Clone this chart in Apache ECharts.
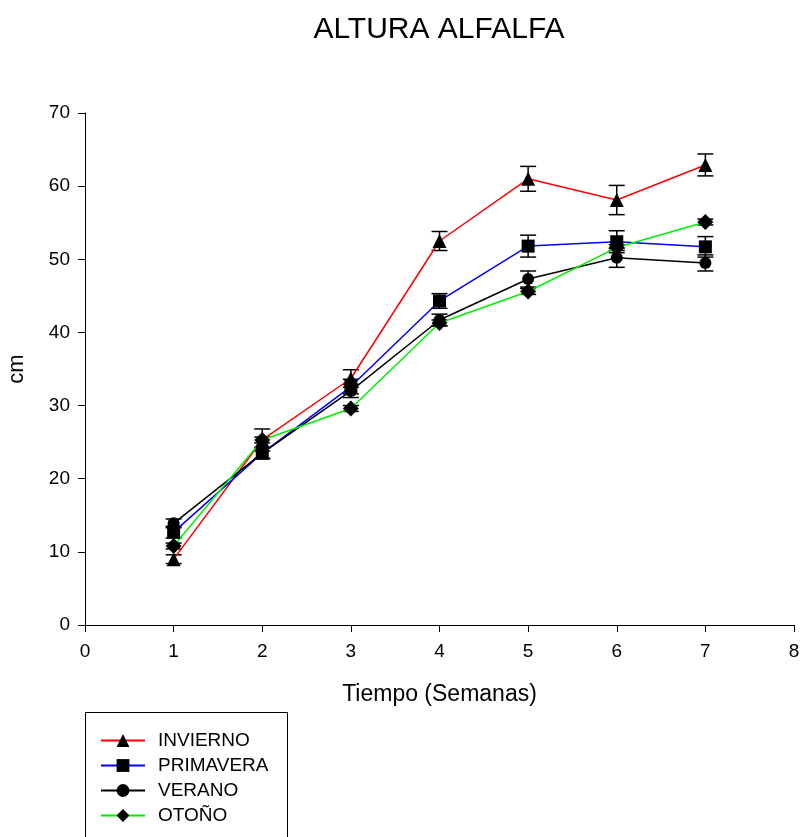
<!DOCTYPE html>
<html>
<head>
<meta charset="utf-8">
<title>ALTURA ALFALFA</title>
<script src="https://cdn.jsdelivr.net/npm/echarts@6/dist/echarts.min.js"></script>
<style>
  html, body { margin: 0; padding: 0; background: #fff; }
  #chart { width: 801px; height: 837px; }
</style>
</head>
<body>
<div id="chart"></div>
<script>
// Weeks of measurement
const semanas = [1, 2, 3, 4, 5, 6, 7];

// Mean height (cm) per season and its standard error
const invierno = [9.0, 25.3, 33.7, 52.5, 61.0, 58.1, 62.9];
const inviernoErr = [0.6, 1.5, 1.2, 1.3, 1.7, 2.0, 1.5];

const primavera = [12.7, 23.5, 32.6, 44.3, 51.8, 52.4, 51.7];
const primaveraErr = [0.8, 0.8, 1.0, 1.0, 1.5, 1.5, 1.4];

const verano = [13.9, 23.5, 32.0, 41.7, 47.3, 50.2, 49.5];
const veranoErr = [0.6, 0.7, 0.9, 0.8, 1.1, 1.3, 1.1];

const otono = [10.8, 25.3, 29.6, 41.3, 45.6, 51.6, 55.1];
const otonoErr = [0.4, 0.4, 0.4, 0.4, 0.4, 0.4, 0.4];

const FONT = '"Liberation Sans", Arial, sans-serif';

const seriesDefs = [
  { name: 'INVIERNO', values: invierno, errs: inviernoErr, color: '#ff0000', symbol: 'triangle', size: 14 },
  { name: 'PRIMAVERA', values: primavera, errs: primaveraErr, color: '#0000ff', symbol: 'rect', size: 13 },
  { name: 'VERANO', values: verano, errs: veranoErr, color: '#000000', symbol: 'circle', size: 12 },
  { name: 'OTOÑO', values: otono, errs: otonoErr, color: '#00ee00', symbol: 'diamond', size: 16 }
];

const series = [];
seriesDefs.forEach(function (d) {
  // Error bars: vertical whisker with caps
  series.push({
    type: 'custom',
    name: d.name + '-err',
    silent: true,
    z: 3,
    data: semanas.map(function (w, i) { return [w, d.values[i] - d.errs[i], d.values[i] + d.errs[i]]; }),
    renderItem: function (params, api) {
      const x = api.value(0);
      const lo = api.coord([x, api.value(1)]);
      const hi = api.coord([x, api.value(2)]);
      const half = 8;
      const style = { stroke: '#000', lineWidth: 1.5, fill: null };
      return {
        type: 'group',
        children: [
          { type: 'line', shape: { x1: lo[0], y1: lo[1], x2: hi[0], y2: hi[1] }, style: style },
          { type: 'line', shape: { x1: lo[0] - half, y1: lo[1], x2: lo[0] + half, y2: lo[1] }, style: style },
          { type: 'line', shape: { x1: hi[0] - half, y1: hi[1], x2: hi[0] + half, y2: hi[1] }, style: style }
        ]
      };
    }
  });
  series.push({
    type: 'line',
    name: d.name,
    z: 4,
    data: semanas.map(function (w, i) { return [w, d.values[i]]; }),
    symbol: d.symbol,
    symbolSize: d.size,
    showAllSymbol: true,
    lineStyle: { color: d.color, width: 1.5 },
    itemStyle: { color: '#000', borderWidth: 0 },
    emphasis: { disabled: true },
    animation: false
  });
});

const chart = echarts.init(document.getElementById('chart'), null, { renderer: 'canvas' });
chart.setOption({
  animation: false,
  backgroundColor: '#fff',
  title: {
    text: 'ALTURA ALFALFA',
    left: 434,
    textAlign: 'center',
    top: 10,
    textStyle: { fontFamily: FONT, fontSize: 30, fontWeight: 'normal', color: '#000' }
  },
  // Frame around the legend, running off the bottom edge
  graphic: [{
    type: 'rect',
    shape: { x: 85.5, y: 712.5, width: 202, height: 140 },
    style: { fill: null, stroke: '#000', lineWidth: 1 },
    silent: true
  }],
  grid: { left: 85, right: 7, top: 113, bottom: 212, containLabel: false, outerBoundsMode: 'none' },
  xAxis: {
    type: 'value',
    min: 0, max: 8, interval: 1,
    name: 'Tiempo (Semanas)',
    nameLocation: 'middle',
    nameGap: 58,
    nameTextStyle: { fontFamily: FONT, fontSize: 23, color: '#000' },
    axisLine: { onZero: false, lineStyle: { color: '#000', width: 1 } },
    axisTick: { show: true, length: 7, lineStyle: { color: '#000' } },
    axisLabel: { fontFamily: FONT, fontSize: 19, color: '#000', margin: 17 },
    splitLine: { show: false }
  },
  yAxis: {
    type: 'value',
    min: 0, max: 70, interval: 10,
    name: 'cm',
    nameLocation: 'middle',
    nameGap: 57,
    nameRotate: 90,
    nameTextStyle: { fontFamily: FONT, fontSize: 22, color: '#000' },
    axisLine: { onZero: false, lineStyle: { color: '#000', width: 1 } },
    axisTick: { show: true, length: 7, lineStyle: { color: '#000' } },
    axisLabel: { fontFamily: FONT, fontSize: 19, color: '#000', margin: 15 },
    splitLine: { show: false }
  },
  legend: {
    orient: 'vertical',
    left: 100,
    top: 731,
    padding: 0,
    itemGap: 6,
    itemWidth: 44,
    itemHeight: 16,
    selectedMode: false,
    data: seriesDefs.map(function (d) { return d.name; }),
    textStyle: { fontFamily: FONT, fontSize: 19, color: '#000', padding: [0, 0, 0, 8] }
  },
  series: series
});
</script>
</body>
</html>
